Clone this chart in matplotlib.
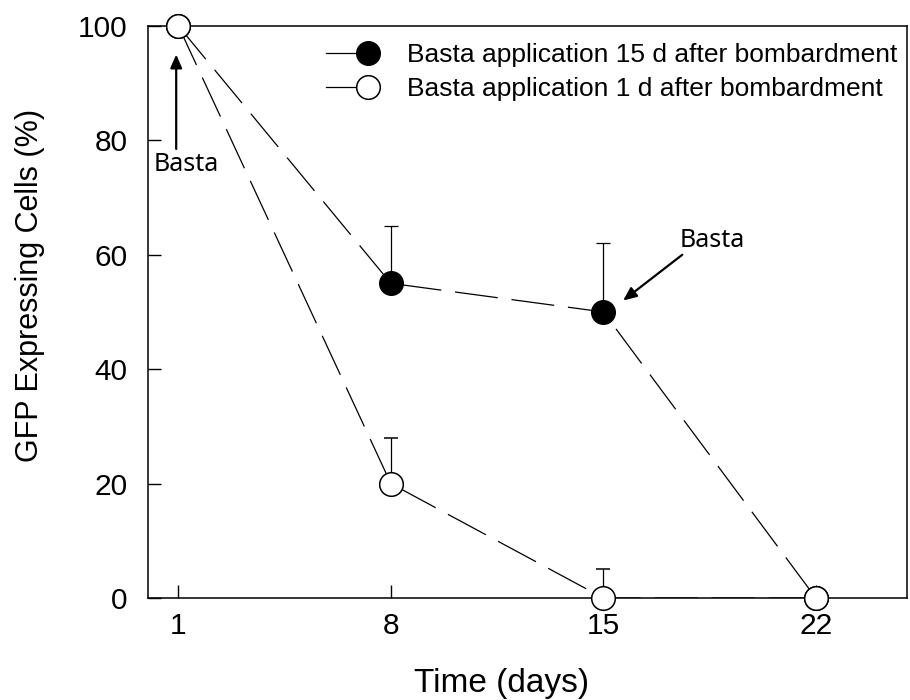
"""GFP expression after Basta application"""
import numpy as np
import matplotlib
matplotlib.use("Agg")
import matplotlib.pyplot as plt
from matplotlib.legend_handler import HandlerLine2D

days = [1, 8, 15, 22]
late_basta = [100, 55, 50, 0]
late_err = [0, 10, 12, 0]
early_basta = [100, 20, 0, 0]
early_err = [0, 8, 5, 1]
labels = ["Basta application 15 d after bombardment",
          "Basta application 1 d after bombardment"]

plt.rcParams['font.family'] = ['Liberation Sans', 'DejaVu Sans']
plt.rcParams['lines.scale_dashes'] = False


class HalfLine(HandlerLine2D):
    """legend handle: short solid line with the marker at its right end"""
    def create_artists(self, legend, orig_handle, xdescent, ydescent,
                       width, height, fontsize, trans):
        arts = super().create_artists(legend, orig_handle, xdescent, ydescent,
                                      width, height, fontsize, trans)
        line = arts[0]
        xd = line.get_xdata()
        yd = line.get_ydata()
        line.set_data([xd[0], xd[-1]], [yd[0], yd[-1]])
        line.set_linestyle("-")
        line.set_markevery([1])
        return arts


fig = plt.figure(figsize=[9.1, 7], dpi=100)
ax = fig.add_axes([0.1626, 0.1457, 0.8341, 0.8173])

dash = (0, (31, 10))
ax.errorbar(days, late_basta, yerr=[np.zeros(4), late_err], fmt="o",
            color="k", ecolor="k", elinewidth=0.9, capsize=5,
            capthick=0.9, markersize=17, mfc="k", mec="k",
            clip_on=False, zorder=4)
ax.plot(days, late_basta, color="k", lw=0.9, linestyle=dash, zorder=2)
ax.errorbar(days, early_basta, yerr=[np.zeros(4), early_err], fmt="o",
            color="k", ecolor="k", elinewidth=0.9, capsize=5,
            capthick=0.9, markersize=17, mfc="w", mec="k", mew=1.1,
            clip_on=False, zorder=5)
ax.plot(days, early_basta, color="k", lw=0.9, linestyle=dash, zorder=2)

l1, = ax.plot([], [], "o-", color="k", mfc="k", ms=17, lw=0.9)
l2, = ax.plot([], [], "o-", color="k", mfc="w", ms=17, lw=0.9, mew=1.1)
ax.legend([l1, l2], labels, loc="upper right", bbox_to_anchor=(1.0, 0.986),
          frameon=False, fontsize=19,
          handler_map={l1: HalfLine(numpoints=1), l2: HalfLine(numpoints=1)},
          handlelength=1.6, handletextpad=1.5, borderaxespad=0.0,
          borderpad=0.35, labelspacing=0.38)

# "Basta" application marks
arrow = dict(arrowstyle="-|>,head_length=0.8,head_width=0.35", color="k",
             lw=1.6, shrinkA=0, shrinkB=0)
basta_font = dict(fontsize=18, family=["Noto Sans", "DejaVu Sans"],
                  ha="center", va="center")
ax.annotate("", xy=(0.93, 95), xytext=(0.93, 78.5), arrowprops=arrow)
ax.text(1.27, 75.7, "Basta", **basta_font)
ax.annotate("", xy=(15.65, 52), xytext=(17.6, 60), arrowprops=arrow)
ax.text(18.6, 62.5, "Basta", **basta_font)

ax.set_xlim(0, 25)
ax.set_ylim(0, 100)
ax.set_xticks(days)
ax.set_yticks([0, 20, 40, 60, 80, 100])
ax.tick_params(direction="in", length=9.5, width=1, labelsize=21.5)
ax.tick_params(axis="y", pad=14.5)
ax.tick_params(axis="x", pad=10)
for sp in ax.spines.values():
    sp.set_linewidth(1.1)
ax.set_xlabel("Time (days)", fontsize=24, labelpad=20, x=0.466)
ax.set_ylabel("GFP Expressing Cells (%)", fontsize=22, labelpad=24, y=0.547)

fig.savefig("out.png", dpi=100)
